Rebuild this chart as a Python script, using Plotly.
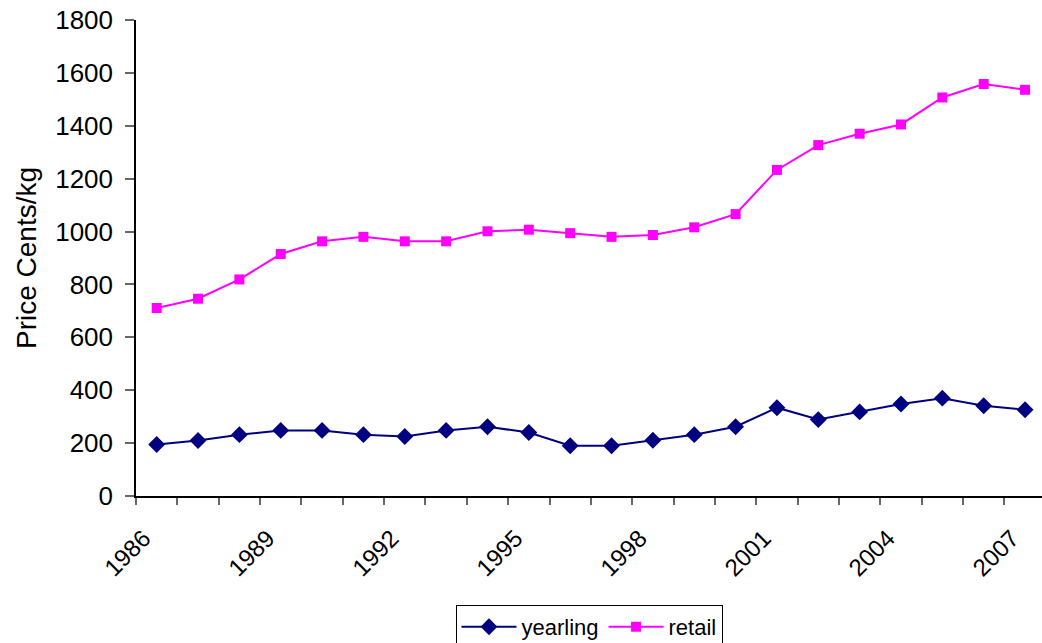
import plotly.graph_objects as go

years = list(range(1986, 2008))
yearling = [195, 210, 232, 248, 248, 232, 225, 248, 262, 240, 190,
            190, 211, 232, 262, 334, 289, 318, 348, 370, 341, 326]
retail = [711, 746, 819, 915, 963, 980, 963, 963, 1001, 1007, 994,
          980, 987, 1016, 1066, 1233, 1327, 1370, 1405, 1507, 1558, 1536]
tick_years = [1986, 1989, 1992, 1995, 1998, 2001, 2004, 2007]
y_ticks = list(range(0, 2000, 200))

fig = go.Figure()
fig.add_trace(go.Scatter(
    x=years, y=yearling, name="yearling", mode="lines+markers",
    line=dict(color="#000080", width=2),
    marker=dict(symbol="diamond", size=13, color="#000080"),
))
fig.add_trace(go.Scatter(
    x=years, y=retail, name="retail", mode="lines+markers",
    line=dict(color="#FF00FF", width=2),
    marker=dict(symbol="square", size=10, color="#FF00FF"),
))

font_family = "Liberation Sans, Arial, sans-serif"

fig.update_layout(
    width=1042, height=643,
    margin=dict(l=136, r=0, t=20, b=147, autoexpand=False),
    paper_bgcolor="white", plot_bgcolor="white",
    font=dict(family=font_family, color="black", size=24),
    showlegend=True,
    legend=dict(
        orientation="h", x=0.5, xanchor="center", y=-0.229, yanchor="top",
        bordercolor="black", borderwidth=1, font=dict(size=22),
        itemwidth=55,
    ),
    xaxis=dict(
        range=[1985.5, 2007.41], tickvals=tick_years,
        ticktext=[str(y) for y in tick_years],
        tickangle=-45, ticks="", showgrid=False, zeroline=False,
        showline=True, linecolor="black", linewidth=1.5,
        tickfont=dict(size=24), ticklabelstandoff=17, ticklabelshift=-13,
        minor=dict(tick0=1985.5, dtick=1, ticks="outside", ticklen=7,
                   tickcolor="#666", tickwidth=1.5, showgrid=False),
    ),
    yaxis=dict(
        range=[0, 1800], tickvals=y_ticks, ticks="outside", ticklen=9,
        tickcolor="#666", tickwidth=1.5, ticklabelstandoff=7,
        showgrid=False, zeroline=False, showline=True,
        linecolor="black", linewidth=1.5, tickfont=dict(size=26),
        title=dict(text="Price Cents/kg", font=dict(size=28), standoff=10),
    ),
)

fig.write_html("out.html")
